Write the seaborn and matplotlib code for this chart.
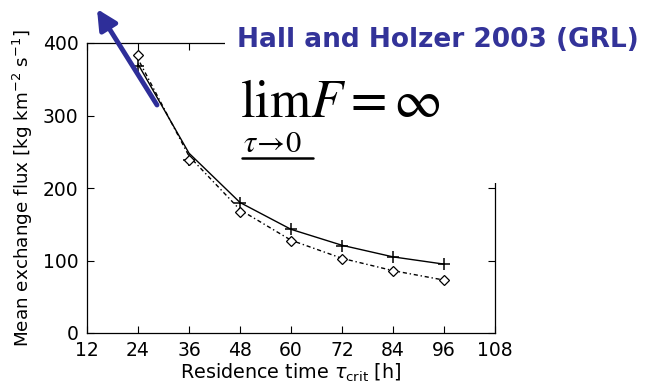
import matplotlib
matplotlib.use("Agg")
import matplotlib.pyplot as plt
from matplotlib.patches import Rectangle
from matplotlib.lines import Line2D
import seaborn as sns
import pandas as pd

# Residence time thresholds [h]
tau_crit = [24, 36, 48, 60, 72, 84, 96]
# Mean exchange flux, two estimates (markers)
flux_plus = [368, 238, 179, 143, 120, 105, 95]
flux_diamond = [383, 238, 167, 127, 102, 85, 73]
# Fitted curves through the estimates
fit_solid = [371, 248, 180, 143, 121, 105, 95]
fit_dotted = [378, 244, 170, 128, 103, 86, 73]

x_ticks = [12, 24, 36, 48, 60, 72, 84, 96, 108]
y_ticks = [0, 100, 200, 300, 400]

sns.set_style("white")
plt.rcParams["font.family"] = ["DejaVu Sans"]
plt.rcParams["mathtext.fontset"] = "dejavusans"
plt.rcParams["text.color"] = "black"
plt.rcParams["axes.labelcolor"] = "black"

df = pd.DataFrame({"tau": tau_crit, "plus": flux_plus, "diamond": flux_diamond,
                   "fit_solid": fit_solid, "fit_dotted": fit_dotted})

fig = plt.figure(figsize=(6.48, 3.9), dpi=100)
ax = fig.add_axes([87 / 648, 57 / 390, 408 / 648, 290 / 390])

sns.lineplot(data=df, x="tau", y="fit_solid", ax=ax, color="black", lw=1.0)
sns.lineplot(data=df, x="tau", y="fit_dotted", ax=ax, color="black", lw=1.0,
             dashes=False, linestyle=(0, (1.0, 2.0, 3.0, 2.0)))
ax.plot(df["tau"], df["plus"], linestyle="none", marker="+", ms=9, mew=1.1, color="black")
ax.plot(df["tau"], df["diamond"], linestyle="none", marker="D", ms=5.5, mew=0.9,
        mfc="white", mec="black")

ax.set_xlim(12, 108)
ax.set_ylim(0, 400)
ax.set_xticks(x_ticks)
ax.set_yticks(y_ticks)
ax.tick_params(direction="in", length=5, width=0.8, top=True, right=True,
               bottom=True, left=True, labelsize=13.5, colors="black", pad=6)
for s in ax.spines.values():
    s.set_visible(True)
    s.set_color("black")
    s.set_linewidth(0.9)

ax.set_xlabel(r"Residence time $\tau_{\mathrm{crit}}$ [h]", fontsize=13.8, labelpad=1)
ax.set_ylabel(r"Mean exchange flux [kg km$^{-2}$ s$^{-1}$]", fontsize=13.2, labelpad=6)

# White panel over the upper right corner
fig.add_artist(Rectangle((225 / 648, 1 - 183 / 390), 1, 1, transform=fig.transFigure,
                         facecolor="white", edgecolor="none", zorder=5))

fig.text(237 / 648, 1 - 47 / 390, "Hall and Holzer 2003 (GRL)", fontsize=19,
         fontweight="bold", color="#333399", ha="left", va="baseline", zorder=6)

fig.text(240 / 648, 1 - 117 / 390, r"$\mathrm{lim}F=\infty$", fontsize=38,
         math_fontfamily="stix", ha="left", va="baseline", zorder=6)
fig.text(243 / 648, 1 - 152 / 390, r"$\tau\!\rightarrow\!0$", fontsize=22,
         math_fontfamily="stix", ha="left", va="baseline", zorder=6)
fig.add_artist(Line2D([242 / 648, 313 / 648], [1 - 158 / 390, 1 - 158 / 390],
                      transform=fig.transFigure, color="black", lw=1.8, zorder=6))

# Arrow pointing to the divergence at small residence time
ax.annotate("", xy=(97, 390 - 9), xytext=(157, 390 - 105),
            xycoords="figure pixels", textcoords="figure pixels",
            arrowprops=dict(arrowstyle="-|>", color="#2e2e99", lw=3.5,
                            mutation_scale=30, shrinkA=0, shrinkB=0),
            zorder=7, annotation_clip=False)

fig.savefig("out.png", dpi=100)
